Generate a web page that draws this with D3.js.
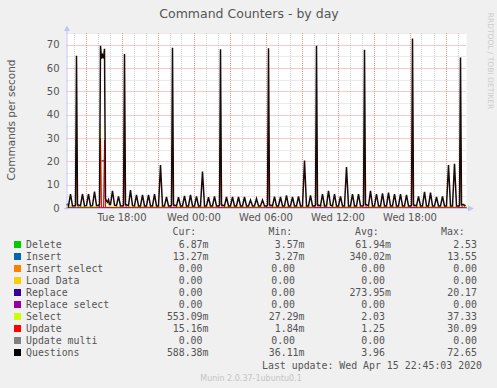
<!DOCTYPE html>
<html>
<head>
<meta charset="utf-8">
<script src="https://cdn.jsdelivr.net/npm/d3@7"></script>
<style>
  body { margin: 0; background: #f0f0f0; }
  svg { display: block; }
</style>
</head>
<body>
<div id="chart"></div>
<script>
// times are minutes since Tue 14 Apr 2020 00:00
const timeStart = 805;   // Tue 13:25
const timeEnd = 2805;    // Wed 22:45

const tickTimes = [1080, 1440, 1800, 2160, 2520];
const tickLabels = ["Tue 18:00", "Wed 00:00", "Wed 06:00", "Wed 12:00", "Wed 18:00"];
const yTicks = [0, 10, 20, 30, 40, 50, 60, 70];

// [minute, commands/s]
const questions = [
  [805, 1.2], [810, 1.6], [815, 0.8], [825, 6.0], [835, 0.9],
  [845, 1.0], [850, 1.2], [855, 65.2], [860, 1.4],
  [875, 1.0], [885, 6.0], [895, 0.9], [905, 1.0], [915, 6.0], [925, 0.9],
  [935, 1.0], [945, 7.0], [955, 1.0],
  [965, 1.2], [970, 1.5], [975, 69.5], [980, 64.0], [985, 65.5], [990, 64.2], [995, 68.2],
  [1000, 4.0], [1005, 3.0], [1010, 2.5], [1015, 3.5], [1020, 1.5],
  [1025, 1.5], [1035, 7.4], [1045, 1.2], [1055, 1.0], [1065, 5.0], [1075, 0.9],
  [1085, 1.0], [1090, 1.2], [1095, 66.0], [1100, 1.5],
  [1115, 1.0], [1125, 7.7], [1135, 1.0], [1145, 0.9], [1155, 5.6], [1165, 0.9],
  [1175, 0.9], [1185, 5.6], [1195, 0.9], [1205, 0.9], [1215, 5.6], [1225, 0.9],
  [1235, 0.9], [1245, 5.9], [1255, 0.9], [1265, 0.9], [1275, 18.4], [1285, 0.9],
  [1295, 0.9], [1305, 4.7], [1315, 0.9],
  [1325, 0.9], [1330, 1.2], [1335, 68.7], [1340, 1.4],
  [1355, 0.9], [1365, 4.6], [1375, 0.9], [1385, 0.9], [1395, 5.2], [1405, 0.9],
  [1415, 0.9], [1425, 5.6], [1435, 0.9], [1445, 0.9], [1455, 5.0], [1465, 0.9],
  [1475, 0.9], [1485, 15.6], [1495, 0.9], [1505, 0.9], [1515, 4.6], [1525, 0.9],
  [1535, 0.9], [1545, 5.0], [1555, 0.9],
  [1565, 0.9], [1570, 1.2], [1575, 68.0], [1580, 1.4],
  [1595, 0.9], [1605, 4.7], [1615, 0.9], [1625, 0.9], [1635, 4.7], [1645, 0.9],
  [1655, 0.9], [1665, 4.7], [1675, 0.9], [1685, 0.9], [1695, 4.7], [1705, 0.9],
  [1715, 0.9], [1725, 3.4], [1735, 0.9], [1745, 0.9], [1755, 4.0], [1765, 0.9],
  [1775, 0.9], [1785, 3.4], [1795, 0.9],
  [1805, 0.9], [1810, 1.2], [1815, 68.5], [1820, 1.4],
  [1835, 0.9], [1845, 4.9], [1855, 0.9], [1865, 0.9], [1875, 4.7], [1885, 0.9],
  [1895, 0.9], [1905, 5.4], [1915, 0.9], [1925, 0.9], [1935, 4.7], [1945, 0.9],
  [1955, 0.9], [1965, 5.0], [1975, 0.9], [1985, 0.9], [1995, 20.3], [2005, 0.9],
  [2015, 0.9], [2025, 5.4], [2035, 0.9],
  [2045, 0.9], [2050, 1.2], [2055, 69.5], [2060, 1.4],
  [2075, 0.9], [2085, 6.0], [2095, 0.9], [2105, 0.9], [2115, 7.4], [2125, 1.2],
  [2135, 0.9], [2145, 6.0], [2155, 0.9], [2165, 0.9], [2175, 5.0], [2185, 0.9],
  [2195, 0.9], [2205, 17.6], [2215, 0.9], [2225, 0.9], [2235, 6.0], [2245, 0.9],
  [2255, 0.9], [2265, 6.0], [2275, 0.9],
  [2285, 1.0], [2290, 1.2], [2295, 67.8], [2300, 1.6],
  [2315, 0.9], [2325, 7.3], [2335, 0.9], [2345, 0.9], [2355, 6.0], [2365, 0.9],
  [2375, 0.9], [2385, 6.3], [2395, 0.9], [2405, 0.9], [2415, 6.6], [2425, 0.9],
  [2435, 0.9], [2445, 6.0], [2455, 0.9], [2465, 0.9], [2475, 6.0], [2485, 0.9],
  [2495, 0.9], [2505, 5.6], [2515, 0.9],
  [2525, 0.9], [2530, 1.2], [2535, 72.65], [2540, 1.4],
  [2555, 0.9], [2565, 5.0], [2575, 0.9], [2585, 0.9], [2595, 6.9], [2605, 0.9],
  [2615, 0.9], [2625, 6.6], [2635, 0.9], [2645, 0.9], [2655, 4.7], [2665, 0.9],
  [2675, 0.9], [2685, 5.0], [2695, 0.9], [2705, 0.9], [2715, 18.4], [2725, 0.9],
  [2735, 0.9], [2745, 19.0], [2755, 0.9],
  [2765, 0.9], [2770, 1.2], [2775, 64.5], [2780, 1.4],
  [2790, 1.5], [2795, 1.0], [2800, 1.3]
];

const select = [
  [805, 0.5], [850, 1.2], [855, 35.0], [860, 1.4], [865, 0.6],
  [965, 0.6], [970, 1.5], [975, 36.0], [980, 1.0], [1010, 2.2], [1020, 0.6],
  [1085, 0.5], [1090, 1.2], [1095, 35.0], [1100, 1.5], [1105, 0.6],
  [1325, 0.5], [1330, 1.2], [1335, 36.0], [1340, 1.4], [1345, 0.6],
  [1565, 0.5], [1570, 1.2], [1575, 36.0], [1580, 1.4], [1585, 0.6],
  [1805, 0.5], [1810, 1.2], [1815, 36.0], [1820, 1.4], [1825, 0.6],
  [2045, 0.5], [2050, 1.2], [2055, 37.0], [2060, 1.4], [2065, 0.6], [2115, 2.0], [2125, 0.6],
  [2285, 0.5], [2290, 1.2], [2295, 36.0], [2300, 1.6], [2305, 0.6],
  [2525, 0.5], [2530, 1.2], [2535, 37.3], [2540, 1.4], [2545, 0.6],
  [2765, 0.5], [2770, 1.2], [2775, 34.0], [2780, 1.4], [2785, 0.6], [2805, 0.55]
];

const update = [
  [805, 0.02], [845, 0.02], [850, 1.2], [855, 28.0], [860, 1.4], [865, 0.02],
  [965, 0.02], [970, 1.5], [975, 30.0], [980, 0.05], [990, 0.05], [995, 29.0], [1000, 0.02],
  [1085, 0.02], [1090, 1.2], [1095, 29.0], [1100, 1.5], [1105, 0.02],
  [1325, 0.02], [1330, 1.2], [1335, 30.0], [1340, 1.4], [1345, 0.02],
  [1565, 0.02], [1570, 1.2], [1575, 29.5], [1580, 1.4], [1585, 0.02],
  [1805, 0.02], [1810, 1.2], [1815, 30.0], [1820, 1.4], [1825, 0.02],
  [2045, 0.02], [2050, 1.2], [2055, 30.09], [2060, 1.4], [2065, 0.02],
  [2285, 0.02], [2290, 1.2], [2295, 29.0], [2300, 1.6], [2305, 0.02],
  [2525, 0.02], [2530, 1.2], [2535, 30.0], [2540, 1.4], [2545, 0.02],
  [2765, 0.02], [2770, 1.2], [2775, 28.0], [2780, 1.4], [2785, 0.02],
  [2805, 0.015]
];

const replace = [[965, 0], [970, 0], [975, 20.17], [995, 20.17], [1000, 0], [2805, 0]];
const replaceSelect = [[1000, 0], [2805, 0]];
const deleteCmd = [[805, 0.06], [2805, 0.06]];
const insert = [[805, 0.3], [2805, 0.3]];

const names = ["Delete", "Insert", "Insert select", "Load Data", "Replace",
  "Replace select", "Select", "Update", "Update multi", "Questions"];
const colors = ["#00cc00", "#0066b3", "#ff8000", "#ffcc00", "#330099",
  "#990099", "#ccff00", "#ff0000", "#808080", "#000000"];
const curVals = ["6.87m", "13.27m", "0.00", "0.00", "0.00", "0.00", "553.09m", "15.16m", "0.00", "588.38m"];
const minVals = ["3.57m", "3.27m", "0.00", "0.00", "0.00", "0.00", "27.29m", "1.84m", "0.00", "36.11m"];
const avgVals = ["61.94m", "340.02m", "0.00", "0.00", "273.95m", "0.00", "2.03", "1.25", "0.00", "3.96"];
const maxVals = ["2.53", "13.55", "0.00", "0.00", "20.17", "0.00", "37.33", "30.09", "0.00", "72.65"];

// series drawn in legend order, Questions last
const seriesData = [
  { data: deleteCmd, color: colors[0], w: 1 },
  { data: insert, color: colors[1], w: 1 },
  { data: replace, color: colors[5], w: 1.2 },
  { data: replaceSelect, color: colors[5], w: 1.2 },
  { data: select, color: colors[6], w: 1 },
  { data: update, color: colors[7], w: 1 },
  { data: questions, color: "#1a0a0a", w: 1.5 }
];

const width = 497;
const height = 388;
const plot = { left: 66.5, right: 466.5, top: 33, bottom: 208 };

const baseDay = new Date(2020, 3, 14);
const toDate = (m) => d3.timeMinute.offset(baseDay, m);

const x = d3.scaleTime()
  .domain([toDate(timeStart), toDate(timeEnd)])
  .range([plot.left, plot.right]);
const y = d3.scaleLinear().domain([0, 75]).range([plot.bottom, plot.top]);

const svg = d3.select("#chart").append("svg")
  .attr("width", width)
  .attr("height", height)
  .style("font-family", "'DejaVu Sans', sans-serif");

svg.append("rect").attr("width", width).attr("height", height).attr("fill", "#f0f0f0");

// plot background
svg.append("rect")
  .attr("x", plot.left).attr("y", plot.top)
  .attr("width", plot.right - plot.left).attr("height", plot.bottom - plot.top)
  .attr("fill", "#ffffff");

const grid = svg.append("g");
const crisp = (v) => Math.round(v) + 0.5;
const minorColor = "#d6d6d6";
const majorColor = "#f29090";

// minor grid: every hour, every 5 units
const hours = d3.timeHour.every(1).range(toDate(timeStart), toDate(timeEnd));
grid.selectAll("line.vminor").data(hours.filter((d) => d.getHours() % 3 !== 0))
  .enter().append("line")
  .attr("x1", (d) => crisp(x(d))).attr("x2", (d) => crisp(x(d)))
  .attr("y1", plot.top).attr("y2", plot.bottom)
  .attr("stroke", minorColor).attr("stroke-dasharray", "1,1");
grid.selectAll("line.hminor").data([5, 15, 25, 35, 45, 55, 65, 75])
  .enter().append("line")
  .attr("x1", plot.left).attr("x2", plot.right)
  .attr("y1", (d) => crisp(y(d))).attr("y2", (d) => crisp(y(d)))
  .attr("stroke", minorColor).attr("stroke-dasharray", "1,1");

// major grid: every 3 hours, every 10 units
grid.selectAll("line.vmajor").data(hours.filter((d) => d.getHours() % 3 === 0))
  .enter().append("line")
  .attr("x1", (d) => crisp(x(d))).attr("x2", (d) => crisp(x(d)))
  .attr("y1", plot.top).attr("y2", plot.bottom)
  .attr("stroke", majorColor).attr("stroke-dasharray", "1,1");
grid.selectAll("line.hmajor").data(yTicks.slice(1))
  .enter().append("line")
  .attr("x1", plot.left).attr("x2", plot.right)
  .attr("y1", (d) => crisp(y(d))).attr("y2", (d) => crisp(y(d)))
  .attr("stroke", majorColor).attr("stroke-dasharray", "1,1");

// data lines
const line = d3.line()
  .x((d) => x(toDate(d[0])))
  .y((d) => y(d[1]));

svg.append("g").selectAll("path")
  .data(seriesData)
  .enter().append("path")
  .attr("d", (d) => line(d.data))
  .attr("fill", "none")
  .attr("stroke", (d) => d.color)
  .attr("stroke-width", (d) => d.w)
  .attr("stroke-linejoin", "miter");

// axes lines with arrows
const axisColor = "#c4c4f4";
svg.append("line")
  .attr("x1", 67).attr("x2", 67).attr("y1", plot.bottom + 2).attr("y2", 28)
  .attr("stroke", axisColor);
svg.append("path").attr("d", "M64,31 L67,25.5 L70,31 Z").attr("fill", axisColor);
svg.append("line")
  .attr("x1", 64).attr("x2", 470).attr("y1", 208.5).attr("y2", 208.5)
  .attr("stroke", axisColor);
svg.append("path").attr("d", "M468,205.5 L474,208.5 L468,211.5 Z").attr("fill", axisColor);

// axis labels
const xAxis = d3.axisBottom(x)
  .tickValues(tickTimes.map(toDate))
  .tickFormat((d, i) => tickLabels[i])
  .tickSize(0)
  .tickPadding(6);
const gx = svg.append("g").attr("transform", `translate(0,${plot.bottom})`).call(xAxis);
gx.select(".domain").remove();
gx.selectAll("text").attr("fill", "#555").style("font-size", "10px")
  .style("font-family", "'DejaVu Sans', sans-serif");

const yAxis = d3.axisLeft(y).tickValues(yTicks).tickSize(0).tickPadding(6);
const gy = svg.append("g").attr("transform", `translate(${plot.left - 1},0)`).call(yAxis);
gy.select(".domain").remove();
gy.selectAll("text").attr("fill", "#555").style("font-size", "10px")
  .style("font-family", "'DejaVu Sans', sans-serif");

// titles
svg.append("text")
  .attr("x", 249).attr("y", 18)
  .attr("text-anchor", "middle")
  .attr("fill", "#555")
  .style("font-size", "12.5px")
  .text("Command Counters - by day");

svg.append("text")
  .attr("transform", "translate(15,120) rotate(-90)")
  .attr("text-anchor", "middle")
  .attr("fill", "#555")
  .style("font-size", "10.5px")
  .text("Commands per second");

svg.append("text")
  .attr("transform", "translate(488,61) rotate(90)")
  .attr("text-anchor", "middle")
  .attr("fill", "#cccccc")
  .style("font-size", "7.5px")
  .text("RRDTOOL / TOBI OETIKER");

// legend
const mono = "'DejaVu Sans Mono', monospace";
const legend = svg.append("g").style("font-family", mono).style("font-size", "9.9px").attr("fill", "#555");
const cols = [
  { head: "Cur:", vals: curVals, right: 208.5, plain: 202.5 },
  { head: "Min:", vals: minVals, right: 304.5, plain: 295 },
  { head: "Avg:", vals: avgVals, right: 391, plain: 385 },
  { head: "Max:", vals: maxVals, right: 477, plain: 477 }
];

cols.forEach((c) => {
  legend.append("text")
    .attr("x", c.right - 36).attr("y", 235)
    .attr("text-anchor", "start")
    .text(c.head);
});

const rows = legend.selectAll("g.row")
  .data(names)
  .enter().append("g")
  .attr("class", "row")
  .attr("transform", (d, i) => `translate(0,${248 + i * 12})`);

rows.append("rect")
  .attr("x", 14).attr("y", -7)
  .attr("width", 7).attr("height", 7)
  .attr("fill", (d, i) => colors[i]);

rows.append("text")
  .attr("x", 26)
  .text((d) => d);

cols.forEach((c) => {
  rows.append("text")
    .attr("x", (d, i) => /[a-z]$/.test(c.vals[i]) ? c.right : c.plain)
    .attr("text-anchor", "end")
    .text((d, i) => c.vals[i]);
});

legend.append("text")
  .attr("x", 482).attr("y", 369)
  .attr("text-anchor", "end")
  .text("Last update: Wed Apr 15 22:45:03 2020");

svg.append("text")
  .attr("x", 251).attr("y", 381)
  .attr("text-anchor", "middle")
  .attr("fill", "#c4c4c4")
  .style("font-size", "8px")
  .text("Munin 2.0.37-1ubuntu0.1");
</script>
</body>
</html>
